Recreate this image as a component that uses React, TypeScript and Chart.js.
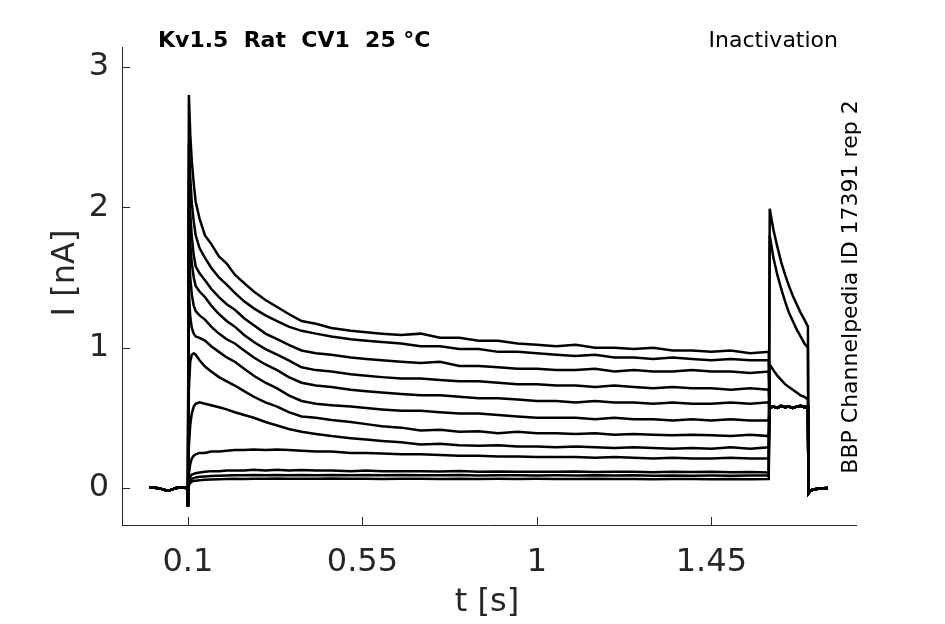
import React, { useEffect, useRef } from 'react';
import Chart, { ChartConfiguration, Plugin } from 'chart.js/auto';

// holding potential before the prepulse
const BASE_T = [0, 0.01, 0.02, 0.03, 0.04, 0.05, 0.06, 0.07, 0.08, 0.09, 0.099];
const BASE_I = [0.005, 0.003, 0.0, -0.005, -0.015, -0.02, -0.01, 0.0, 0.003, 0.002, 0.0];

// capacitive transient at the step
const ONSET_T = [0.1];
const ONSET_I = [-0.133];

// prepulse sample times (s)
const PULSE_T = [
  0.1025, 0.106, 0.11, 0.115, 0.12, 0.13, 0.144, 0.16, 0.18, 0.2,
  0.221, 0.245, 0.27, 0.3, 0.33, 0.36, 0.393, 0.43, 0.47, 0.52,
  0.56, 0.6, 0.65, 0.7, 0.75, 0.8, 0.85, 0.9, 0.95, 1.0,
  1.05, 1.1, 1.15, 1.2, 1.25, 1.3, 1.35, 1.4, 1.45, 1.5,
  1.55, 1.598,
];

// prepulse currents (nA), one array per sweep
const trace01 = [2.8, 2.52, 2.33, 2.17, 2.04, 1.92, 1.8, 1.74, 1.65, 1.6, 1.52, 1.46, 1.4, 1.34, 1.29, 1.24, 1.19, 1.17, 1.14, 1.12, 1.11, 1.1, 1.09, 1.1, 1.07, 1.07, 1.05, 1.05, 1.03, 1.02, 1.01, 1.02, 1.0, 1.0, 0.99, 1.0, 0.98, 0.98, 0.97, 0.98, 0.96, 0.97];
const trace02 = [2.45, 2.22, 2.03, 1.9, 1.8, 1.71, 1.64, 1.57, 1.5, 1.45, 1.39, 1.33, 1.28, 1.23, 1.19, 1.15, 1.12, 1.1, 1.08, 1.06, 1.05, 1.04, 1.03, 1.01, 1.01, 0.99, 0.99, 0.97, 0.97, 0.96, 0.95, 0.94, 0.95, 0.93, 0.93, 0.92, 0.93, 0.92, 0.91, 0.92, 0.91, 0.91];
const trace03 = [2.2, 1.96, 1.79, 1.66, 1.58, 1.53, 1.48, 1.42, 1.36, 1.31, 1.27, 1.21, 1.16, 1.1, 1.06, 1.02, 0.98, 0.96, 0.95, 0.93, 0.92, 0.91, 0.9, 0.89, 0.9, 0.87, 0.87, 0.86, 0.85, 0.85, 0.84, 0.84, 0.85, 0.83, 0.84, 0.83, 0.83, 0.84, 0.83, 0.83, 0.82, 0.83];
const trace04 = [1.98, 1.74, 1.6, 1.5, 1.44, 1.4, 1.36, 1.3, 1.24, 1.19, 1.15, 1.09, 1.04, 0.99, 0.95, 0.91, 0.86, 0.84, 0.83, 0.81, 0.8, 0.79, 0.78, 0.78, 0.77, 0.76, 0.76, 0.75, 0.74, 0.74, 0.73, 0.73, 0.72, 0.73, 0.72, 0.71, 0.72, 0.71, 0.71, 0.7, 0.71, 0.7];
const trace05 = [1.74, 1.5, 1.38, 1.3, 1.26, 1.23, 1.2, 1.15, 1.1, 1.06, 1.03, 0.98, 0.93, 0.88, 0.84, 0.79, 0.75, 0.73, 0.72, 0.7, 0.69, 0.68, 0.67, 0.66, 0.66, 0.65, 0.64, 0.64, 0.63, 0.62, 0.62, 0.61, 0.62, 0.61, 0.61, 0.6, 0.61, 0.6, 0.6, 0.61, 0.6, 0.61];
const trace06 = [1.4, 1.22, 1.14, 1.1, 1.08, 1.07, 1.05, 1.01, 0.97, 0.93, 0.9, 0.85, 0.8, 0.75, 0.71, 0.66, 0.62, 0.6, 0.59, 0.58, 0.57, 0.56, 0.55, 0.55, 0.54, 0.53, 0.53, 0.52, 0.51, 0.5, 0.5, 0.5, 0.49, 0.5, 0.49, 0.49, 0.48, 0.49, 0.48, 0.49, 0.48, 0.48];
const trace07 = [0.7, 0.9, 0.95, 0.96, 0.95, 0.91, 0.865, 0.83, 0.79, 0.76, 0.73, 0.69, 0.65, 0.61, 0.58, 0.54, 0.51, 0.5, 0.485, 0.47, 0.455, 0.44, 0.43, 0.41, 0.415, 0.4, 0.405, 0.39, 0.4, 0.39, 0.39, 0.385, 0.39, 0.38, 0.385, 0.38, 0.375, 0.38, 0.375, 0.37, 0.38, 0.37];
const trace08 = [0.3, 0.45, 0.53, 0.58, 0.6, 0.61, 0.6, 0.59, 0.575, 0.56, 0.54, 0.52, 0.5, 0.47, 0.445, 0.42, 0.4, 0.385, 0.37, 0.355, 0.345, 0.335, 0.325, 0.31, 0.315, 0.305, 0.3, 0.305, 0.295, 0.295, 0.29, 0.295, 0.29, 0.285, 0.29, 0.285, 0.28, 0.285, 0.28, 0.29, 0.28, 0.29];
const trace09 = [0.1, 0.17, 0.21, 0.23, 0.24, 0.25, 0.25, 0.26, 0.26, 0.265, 0.27, 0.27, 0.275, 0.27, 0.275, 0.27, 0.265, 0.26, 0.26, 0.25, 0.25, 0.245, 0.24, 0.24, 0.235, 0.23, 0.23, 0.225, 0.225, 0.22, 0.22, 0.22, 0.215, 0.22, 0.215, 0.21, 0.215, 0.21, 0.21, 0.215, 0.21, 0.21];
const trace10 = [0.05, 0.08, 0.095, 0.1, 0.105, 0.11, 0.115, 0.12, 0.12, 0.125, 0.125, 0.125, 0.13, 0.125, 0.13, 0.125, 0.128, 0.125, 0.125, 0.12, 0.125, 0.12, 0.12, 0.12, 0.118, 0.12, 0.115, 0.118, 0.115, 0.116, 0.115, 0.118, 0.113, 0.115, 0.115, 0.112, 0.115, 0.113, 0.115, 0.112, 0.114, 0.11];
const trace11 = [0.03, 0.05, 0.065, 0.07, 0.075, 0.08, 0.082, 0.085, 0.087, 0.088, 0.09, 0.09, 0.092, 0.09, 0.093, 0.09, 0.093, 0.09, 0.092, 0.09, 0.093, 0.09, 0.092, 0.09, 0.09, 0.092, 0.089, 0.09, 0.091, 0.089, 0.09, 0.088, 0.09, 0.088, 0.09, 0.087, 0.089, 0.087, 0.088, 0.087, 0.089, 0.088];
const trace12 = [0.02, 0.035, 0.045, 0.05, 0.052, 0.055, 0.058, 0.06, 0.062, 0.063, 0.065, 0.064, 0.066, 0.065, 0.067, 0.065, 0.066, 0.065, 0.067, 0.065, 0.066, 0.064, 0.066, 0.065, 0.064, 0.066, 0.064, 0.065, 0.063, 0.065, 0.064, 0.063, 0.065, 0.063, 0.064, 0.062, 0.064, 0.063, 0.062, 0.064, 0.062, 0.063];

const PREPULSE = [trace01, trace02, trace03, trace04, trace05, trace06, trace07, trace08, trace09, trace10, trace11, trace12];

// test pulse
const TEST_T = [1.6005, 1.603, 1.61, 1.62, 1.63, 1.64, 1.65, 1.66, 1.67, 1.68, 1.69, 1.699];
const testHigh = [1.99, 1.95, 1.84, 1.72, 1.61, 1.52, 1.44, 1.37, 1.31, 1.25, 1.2, 1.15];
const testHigh2 = [1.8, 1.76, 1.64, 1.52, 1.42, 1.33, 1.25, 1.19, 1.13, 1.08, 1.03, 1.0];
const testMid = [0.86, 0.87, 0.84, 0.8, 0.77, 0.74, 0.72, 0.7, 0.68, 0.66, 0.65, 0.63];
const testLow = [0.58, 0.575, 0.58, 0.57, 0.585, 0.575, 0.58, 0.57, 0.58, 0.585, 0.575, 0.58];

const TEST_OF_SWEEP = [testLow, testLow, testLow, testLow, testLow, testLow, testLow, testLow, testLow, testMid, testHigh2, testHigh];

// back to holding
const OFF_T = [1.7005, 1.705, 1.71, 1.72, 1.73, 1.74, 1.75];
const OFF_I = [-0.038, -0.022, -0.014, -0.008, -0.004, -0.002, 0.0];

const X_TICKS = [0.1, 0.55, 1, 1.45];
const Y_TICKS = [0, 1, 2, 3];

const AXIS_COLOR = '#262626';
const FONT = '"DejaVu Sans", sans-serif';

const pts = (ts: number[], vs: number[]) => ts.map((t, i) => ({ x: t, y: vs[i] }));

const sweeps = PREPULSE.map((pre, k) => [
    ...pts(BASE_T, BASE_I),
    ...pts(ONSET_T, ONSET_I),
    ...pts(PULSE_T, pre),
    ...pts(TEST_T, TEST_OF_SWEEP[k]),
    ...pts(OFF_T, OFF_I),
]);

const decorations: Plugin = {
    id: 'decorations',
    afterDraw(chart) {
        const { ctx, chartArea, scales } = chart;
        ctx.save();

        // inward ticks
        ctx.strokeStyle = AXIS_COLOR;
        ctx.lineWidth = 1;
        ctx.beginPath();
        X_TICKS.forEach((v) => {
            const px = Math.round(scales.x.getPixelForValue(v)) + 0.5;
            ctx.moveTo(px, chartArea.bottom);
            ctx.lineTo(px, chartArea.bottom - 8);
        });
        Y_TICKS.forEach((v) => {
            const py = Math.round(scales.y.getPixelForValue(v)) + 0.5;
            ctx.moveTo(chartArea.left, py);
            ctx.lineTo(chartArea.left + 8, py);
        });
        ctx.stroke();

        // axis titles
        ctx.fillStyle = AXIS_COLOR;
        ctx.font = `32px ${FONT}`;
        ctx.textAlign = 'center';
        ctx.textBaseline = 'alphabetic';
        ctx.fillText('t [s]', 487, 611);

        ctx.save();
        ctx.translate(74, 273);
        ctx.rotate(-Math.PI / 2);
        ctx.fillText('I [nA]', 0, 0);
        ctx.restore();

        // header texts
        ctx.fillStyle = '#000';
        ctx.font = `bold 22px ${FONT}`;
        ctx.textAlign = 'left';
        ctx.fillText('Kv1.5  Rat  CV1  25 °C', 158, 47);

        ctx.font = `22px ${FONT}`;
        ctx.textAlign = 'right';
        ctx.fillText('Inactivation', 838, 47);

        ctx.save();
        ctx.translate(857, 287);
        ctx.rotate(-Math.PI / 2);
        ctx.textAlign = 'center';
        ctx.fillText('BBP Channelpedia ID 17391 rep 2', 0, 0);
        ctx.restore();

        ctx.restore();
    },
};

const App: React.FC = () => {
    const chartRef = useRef<HTMLCanvasElement | null>(null);

    useEffect(() => {
        const config: ChartConfiguration = {
            type: 'line',
            data: {
                datasets: sweeps.map((d, i) => ({
                    label: `sweep ${i + 1}`,
                    data: d,
                    borderColor: '#000',
                    borderWidth: 2.5,
                    pointRadius: 0,
                    tension: 0,
                    fill: false,
                })),
            },
            options: {
                animation: false,
                responsive: true,
                maintainAspectRatio: false,
                parsing: false,
                layout: { padding: { top: 47, right: 89, left: 0, bottom: 0 } },
                plugins: {
                    legend: { display: false },
                    tooltip: { enabled: false },
                    title: { display: false },
                },
                scales: {
                    x: {
                        type: 'linear',
                        min: -0.07,
                        max: 1.823,
                        afterFit: (scale: any) => {
                            scale.height = 99;
                        },
                        afterBuildTicks: (scale: any) => {
                            scale.ticks = X_TICKS.map((v) => ({ value: v }));
                        },
                        grid: { display: false, drawTicks: false },
                        border: { display: true, color: AXIS_COLOR, width: 1 },
                        ticks: {
                            autoSkip: false,
                            maxRotation: 0,
                            padding: 18,
                            color: AXIS_COLOR,
                            font: { family: FONT, size: 32 },
                            callback: (v: any) => String(v),
                        },
                    },
                    y: {
                        type: 'linear',
                        min: -0.264,
                        max: 3.143,
                        afterFit: (scale: any) => {
                            scale.width = 122;
                        },
                        afterBuildTicks: (scale: any) => {
                            scale.ticks = Y_TICKS.map((v) => ({ value: v }));
                        },
                        grid: { display: false, drawTicks: false },
                        border: { display: true, color: AXIS_COLOR, width: 1 },
                        ticks: {
                            padding: 13,
                            color: AXIS_COLOR,
                            font: { family: FONT, size: 32 },
                            callback: (v: any) => String(v),
                        },
                    },
                },
            } as any,
            plugins: [decorations],
        };

        if (chartRef.current) {
            const chartInstance = new Chart(chartRef.current, config);
            return () => {
                chartInstance.destroy();
            };
        }
    }, []);

    return (
        <div style={{ position: 'absolute', left: 0, top: 0, width: 945, height: 624, background: '#fff' }}>
            <canvas ref={chartRef} />
        </div>
    );
};

export default App;
